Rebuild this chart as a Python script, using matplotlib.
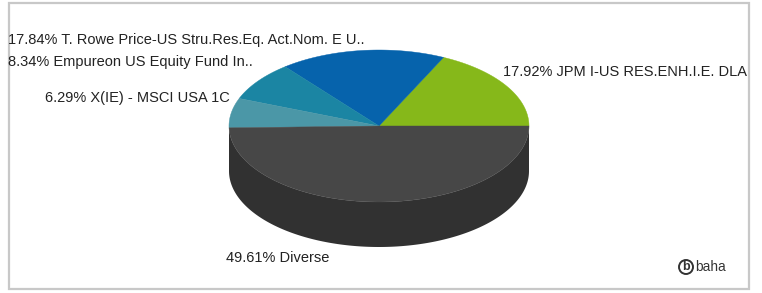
import numpy as np
import matplotlib.pyplot as plt
from matplotlib.patches import Polygon, Rectangle, Circle

# Anteile (gegen den Uhrzeigersinn ab 3 Uhr)
labels = ['JPM I-US RES.ENH.I.E. DLA', 'T. Rowe Price-US Stru.Res.Eq. Act.Nom. E U..',
          'Empureon US Equity Fund In..', 'X(IE) - MSCI USA 1C', 'Diverse']
shares = [17.92, 17.84, 8.34, 6.29, 49.61]
colors = ['#86b81a', '#0663ac', '#1b85a3', '#4b97a7', '#474747']
side_color = '#313131'

# Lage der Beschriftungen in Pixeln (links, Mitte y)
label_pos = [(503, 72), (8, 40), (8, 62), (45, 98), (226, 258)]

W, H = 762, 293
fig = plt.figure(figsize=(W / 100, H / 100), dpi=100)
ax = fig.add_axes([0, 0, 1, 1])
ax.set_xlim(0, W)
ax.set_ylim(H, 0)
ax.axis('off')

# Rahmen
ax.add_patch(Rectangle((9, 3), 740, 286, fill=False, edgecolor='#c8c8c8', lw=1.6))

cx, cy, a, b, depth = 379, 126, 150, 76, 45


def arc(t0, t1, n=200):
    t = np.linspace(t0, t1, n)
    return cx + a * np.cos(t), cy - b * np.sin(t)


# Seitenflaeche (nur vordere Haelfte sichtbar)
xs, ys = arc(np.pi, 2 * np.pi)
side = np.column_stack([np.r_[xs, xs[::-1]], np.r_[ys, ys[::-1] + depth]])
ax.add_patch(Polygon(side, closed=True, facecolor=side_color, edgecolor='none'))

# Oberseite
fr = np.array(shares) / sum(shares)
bounds = np.r_[0, np.cumsum(fr)] * 2 * np.pi
for i, c in enumerate(colors):
    xs, ys = arc(bounds[i], bounds[i + 1])
    pts = np.column_stack([np.r_[cx, xs], np.r_[cy, ys]])
    ax.add_patch(Polygon(pts, closed=True, facecolor=c, edgecolor=c, lw=0.3))

# Beschriftungen
for lab, s, (x, y) in zip(labels, shares, label_pos):
    ax.text(x, y, f'{s:.2f}% {lab}', family='Liberation Sans', fontsize=10.5,
            color='#222222', ha='left', va='center')

# Logo
ax.add_patch(Circle((686, 267), 7, fill=False, edgecolor='#333333', lw=1.4))
ax.text(686, 267.5, 'b', family='Liberation Sans', fontsize=9, weight='bold',
        color='#333333', ha='center', va='center')
ax.text(695, 267, 'baha', family='Liberation Sans', fontsize=9.8,
        color='#333333', ha='left', va='center')

fig.savefig('out.png', dpi=100)
